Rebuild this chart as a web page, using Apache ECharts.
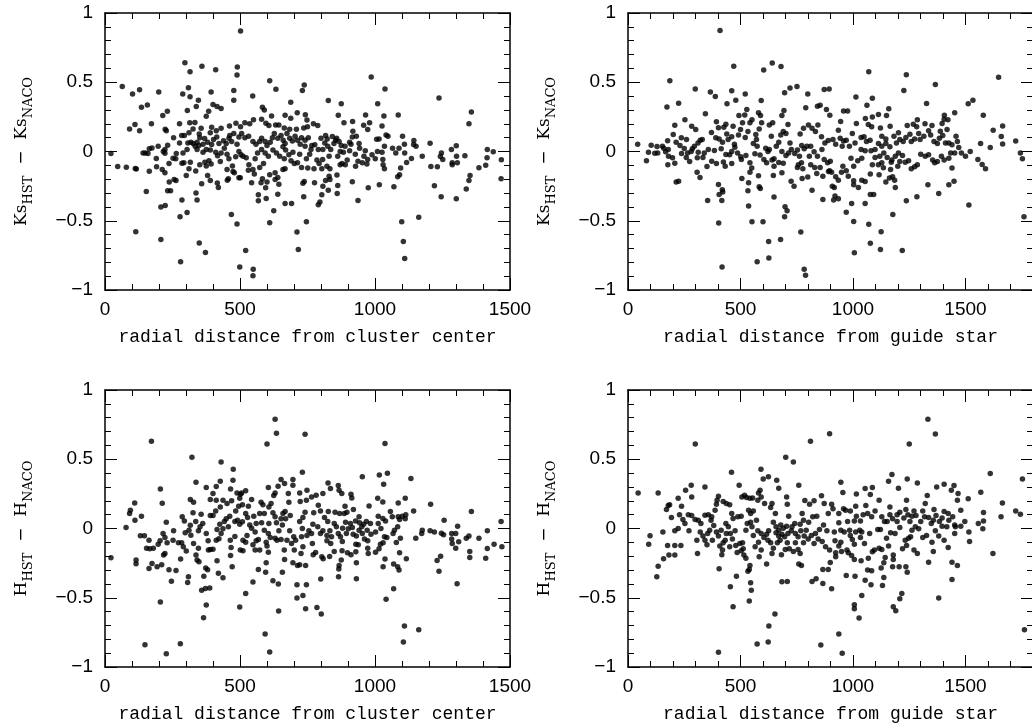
<!DOCTYPE html>
<html>
<head>
<meta charset="utf-8">
<title>Ks / H residuals vs radial distance</title>
<script src="https://cdn.jsdelivr.net/npm/echarts@6.0.0/dist/echarts.min.js"></script>
<style>
  html, body { margin: 0; padding: 0; background: #fff; }
  #chart { width: 1032px; height: 727px; }
</style>
</head>
<body>
<div id="chart"></div>
<script>
// [radial distance, magnitude difference]

// Ks(HST) - Ks(NACO) vs distance from cluster center
const ksCluster = [
[502,0.87],[296,0.64],[359,0.615],[410,0.59],[490,0.61],[489,0.553],[315,0.575],[610,0.51],[738,0.48],[64,0.47],
[102,0.415],[128,0.445],[199,0.43],[309,0.46],[288,0.415],[315,0.395],[393,0.43],[477,0.44],[477,0.37],[547,0.40],
[633,0.45],[731,0.44],[135,0.32],[157,0.335],[346,0.37],[305,0.296],[338,0.325],[400,0.34],[415,0.325],[430,0.31],
[214,0.26],[231,0.29],[384,0.29],[375,0.255],[688,0.355],[712,0.28],[742,0.265],[583,0.32],[590,0.30],[617,0.257],
[667,0.262],[688,0.24],[91,0.163],[111,0.195],[128,0.15],[172,0.2],[223,0.16],[227,0.15],[276,0.2],[314,0.207],
[333,0.21],[326,0.163],[356,0.168],[254,0.1],[284,0.115],[294,0.115],[311,0.135],[349,0.127],[369,0.094],[395,0.175],
[390,0.135],[412,0.15],[430,0.168],[461,0.185],[485,0.204],[502,0.178],[518,0.207],[536,0.2],[550,0.23],[580,0.233],
[596,0.204],[607,0.188],[632,0.192],[644,0.192],[664,0.17],[684,0.16],[709,0.16],[736,0.17],[748,0.228],[750,0.178],
[149,-0.01],[141,-0.01],[159,-0.015],[164,0.02],[174,0.026],[190,-0.05],[197,0.038],[216,0],[222,-0.012],[232,0.046],
[222,0.014],[191,-0.11],[212,-0.13],[222,-0.154],[237,-0.087],[238,-0.22],[243,-0.284],[232,-0.284],[256,-0.202],[263,-0.21],
[276,0.062],[285,-0.084],[292,-0.082],[304,0.014],[301,-0.173],[285,-0.35],[307,0.062],[318,0.067],[327,0.058],[334,0.038],
[341,0.067],[348,0.043],[363,0.053],[351,0.1],[375,0.014],[380,0.067],[395,0.05],[402,0.087],[414,0.105],[422,0.058],
[439,0.077],[449,0.058],[459,0.096],[469,0.072],[462,0.115],[477,0.13],[496,0.105],[506,0.13],[489,0.053],[518,0.1],
[532,0.11],[548,0.072],[559,0.053],[573,0.072],[580,0.096],[593,0.072],[600,0.043],[612,0.067],[620,0.1],[627,0.13],
[640,0.096],[652,0.115],[660,0.082],[667,0.058],[674,0.13],[684,0.096],[694,0.075],[704,0.11],[713,0.082],[723,0.053],
[728,0.1],[741,0.082],[741,0.038],[341,0.014],[363,-0.005],[390,0.01],[410,-0.005],[417,-0.03],[430,-0.01],[442,0.024],
[452,-0.02],[459,-0.053],[472,-0.105],[474,-0.144],[484,-0.038],[496,0],[504,-0.024],[511,-0.034],[523,-0.046],[501,-0.19],
[496,-0.19],[533,-0.096],[548,-0.13],[553,-0.163],[543,-0.226],[568,-0.313],[568,-0.356],[578,-0.226],[597,-0.34],[595,-0.262],
[610,-0.168],[610,-0.514],[625,-0.428],[630,-0.202],[640,-0.188],[644,-0.236],[640,-0.308],[667,-0.375],[691,-0.375],[711,-0.582],
[716,-0.707],[736,-0.327],[733,-0.23],[738,-0.216],[746,-0.507],[728,-0.115],[713,-0.082],[701,-0.087],[689,-0.067],[667,-0.125],
[664,-0.053],[647,-0.034],[635,-0.01],[622,0.01],[605,-0.034],[593,-0.01],[580,0.014],[565,-0.01],[556,-0.053],[681,-0.024],
[696,-0.005],[721,-0.02],[746,-0.053],[669,0.01],[659,0.034],[47,-0.108],[79,-0.113],[112,-0.123],[116,-0.127],[164,-0.142],
[22,-0.015],[153,-0.288],[207,-0.4],[223,-0.39],[278,-0.471],[304,-0.44],[114,-0.58],[207,-0.635],[280,-0.796],[349,-0.661],
[372,-0.73],[337,-0.3],[341,-0.35],[468,-0.454],[489,-0.524],[499,-0.834],[521,-0.714],[549,-0.851],[548,-0.897],[358,-0.233],
[390,-0.209],[416,-0.228],[420,-0.26],[453,-0.207],[457,-0.197],[452,-0.13],[479,-0.154],[380,-0.173],[336,-0.14],[351,-0.096],
[370,-0.077],[385,-0.067],[393,-0.09],[375,-0.105],[427,-0.072],[316,-0.077],[311,-0.125],[289,-0.01],[264,-0.015],[262,-0.053],
[252,-0.048],[531,-0.135],[573,-0.115],[587,-0.087],[583,-0.197],[600,-0.221],[630,-0.154],[659,-0.13],
[986,0.538],[1037,0.452],[827,0.368],[875,0.344],[1010,0.344],[1237,0.387],[1357,0.286],[1348,0.2],[864,0.262],[917,0.216],
[965,0.264],[980,0.207],[958,0.19],[1026,0.185],[1033,0.257],[1086,0.264],[788,0.188],[772,0.2],[885,0.207],[918,0.147],
[931,0.11],[973,0.159],[1006,0.089],[1015,0.091],[1041,0.12],[1048,0.11],[1102,0.11],[1144,0.08],[1152,0.038],[1204,0.06],
[1283,0.014],[1301,0.041],[1416,0.014],[1438,-0.002],[1468,-0.06],[1467,-0.197],[1415,-0.046],[1410,-0.1],[1385,-0.118],[1352,-0.173],
[1348,-0.21],[1338,-0.27],[1333,-0.03],[1305,-0.082],[1302,-0.034],[1286,-0.082],[1286,-0.096],[1301,-0.341],[1245,-0.327],[1220,-0.248],
[1246,-0.01],[1251,-0.058],[1231,-0.11],[1207,-0.108],[1242,-0.036],[1175,-0.034],[1162,-0.474],[1099,-0.507],[1105,-0.65],[1110,-0.772],
[1135,-0.05],[1143,0.05],[1109,0.053],[1110,-0.01],[1117,-0.08],[1095,-0.12],[1091,-0.168],[1084,-0.183],[1070,-0.255],[1089,0.024],
[1077,-0.01],[1065,0.024],[1035,0.038],[1026,-0.005],[1029,-0.058],[1030,-0.096],[1035,-0.125],[1016,-0.24],[975,-0.262],[937,-0.353],
[916,-0.219],[970,-0.091],[973,-0.058],[989,-0.024],[1001,-0.053],[1009,0],[964,0.005],[959,-0.034],[953,-0.082],[937,-0.07],
[928,-0.106],[927,-0.02],[943,0.024],[941,0.058],[911,0.053],[906,0.005],[897,-0.062],[890,-0.096],[871,-0.096],[862,-0.034],
[871,0],[875,0.043],[867,0.072],[858,0.096],[848,0.058],[836,0.014],[830,-0.034],[825,0.038],[823,0.091],[814,0.062],
[807,0.014],[800,0.096],[790,0.014],[777,0.048],[763,0.014],[758,-0.02],[766,0.043],[753,0.1],[817,0.115],[842,0.108],
[854,0.082],[906,0.067],[806,-0.058],[793,-0.087],[785,-0.062],[774,-0.125],[751,-0.12],[803,-0.125],[822,-0.106],[833,-0.125],
[830,-0.178],[833,-0.202],[859,-0.17],[817,-0.21],[807,-0.25],[803,-0.312],[827,-0.279],[862,-0.245],[860,-0.303],[776,-0.226],
[796,-0.365],[790,-0.385],[878,-0.087],[883,-0.005],[889,0.038],[916,0.105]
];

// Ks(HST) - Ks(NACO) vs distance from guide star
const ksGuide = [
[409,0.873],[470,0.615],[641,0.639],[680,0.613],[603,0.589],[186,0.51],[299,0.452],[366,0.43],[388,0.397],[461,0.438],
[479,0.37],[521,0.416],[592,0.368],[696,0.425],[720,0.459],[751,0.469],[799,0.416],[872,0.447],[894,0.452],[173,0.322],
[225,0.349],[344,0.272],[440,0.344],[493,0.26],[528,0.303],[519,0.264],[693,0.296],[684,0.26],[790,0.315],[842,0.327],
[854,0.334],[882,0.303],[897,0.262],[253,0.23],[208,0.19],[283,0.183],[301,0.159],[201,0.123],[237,0.099],[260,0.087],
[176,0.077],[103,0.046],[129,0.036],[153,0.038],[43,0.053],[91,-0.005],[119,-0.012],[132,-0.01],[159,0.024],[167,-0.002],
[180,-0.034],[177,-0.096],[208,-0.084],[198,-0.046],[82,-0.067],[214,-0.221],[225,-0.214],[231,0.043],[238,-0.015],[250,0.022],
[274,-0.072],[281,0],[286,0.02],[295,0.038],[311,0.062],[321,0.082],[330,0.087],[307,-0.149],[320,-0.188],[351,-0.108],
[354,-0.353],[371,0.137],[393,0.214],[402,0.171],[390,0.099],[405,0.091],[426,0.175],[435,0.197],[439,0.127],[420,0.067],
[414,0.019],[384,0.007],[372,-0.07],[393,-0.087],[424,-0.075],[435,-0.022],[452,-0.024],[461,0],[475,0.031],[491,0.12],
[500,0.159],[509,0.207],[467,0.183],[473,0.053],[487,-0.01],[501,-0.038],[524,-0.029],[506,-0.195],[533,-0.284],[536,-0.226],
[542,-0.149],[550,-0.12],[542,-0.082],[536,-0.394],[551,-0.507],[402,-0.238],[405,-0.31],[419,-0.276],[421,-0.293],[417,-0.353],
[403,-0.517],[418,-0.834],[574,-0.796],[600,-0.507],[625,-0.649],[626,-0.769],[583,-0.255],[588,-0.267],[580,-0.175],[649,-0.329],
[698,-0.399],[707,-0.428],[696,-0.471],[678,-0.635],[768,-0.582],[783,-0.851],[789,-0.894],[725,-0.214],[738,-0.25],[774,-0.195],
[799,-0.185],[818,-0.279],[866,-0.346],[866,-0.178],[839,-0.159],[891,-0.144],[646,-0.173],[649,-0.106],[684,-0.154],[670,-0.079],
[690,-0.084],[640,-0.062],[649,-0.053],[616,-0.082],[604,-0.058],[587,-0.026],[564,-0.017],[574,0.038],[557,0.058],[568,0.123],
[571,0.087],[583,0.163],[594,0.207],[589,0.26],[580,0.279],[612,0.024],[622,0],[628,0.014],[637,0.11],[628,0.192],
[643,0.207],[659,0.038],[670,0.067],[679,0.12],[690,0.144],[702,0.13],[711,0.195],[720,0.062],[726,0.014],[714,-0.01],
[702,-0.029],[684,0],[741,-0.014],[753,0.01],[762,-0.034],[772,0.043],[765,0.127],[780,0.168],[802,0.192],[818,0.168],
[833,0.144],[844,0.192],[860,0.106],[875,0.062],[890,0.079],[862,0.014],[842,-0.034],[827,-0.002],[806,-0.034],[795,0.038],
[783,0.019],[812,0.038],[771,-0.082],[757,-0.096],[753,-0.115],[777,-0.125],[812,-0.096],[830,-0.115],[854,-0.115],[872,-0.058],
[887,-0.082],[896,-0.139],[333,-0.043],[339,-0.01],[357,0.014],[312,-0.005],[308,-0.046],[265,-0.01],[259,-0.043],[214,0.067],
[179,0.014],[432,-0.106],[461,-0.087],[504,-0.058],[445,0.087],[461,0.106],[521,0.101],[533,0.144],[542,0.207],[551,0.23],
[1070,0.575],[1237,0.555],[1647,0.536],[1366,0.483],[1226,0.44],[1013,0.394],[1086,0.385],[1327,0.346],[1062,0.334],[1159,0.308],
[958,0.293],[976,0.293],[1512,0.344],[1533,0.37],[1579,0.262],[1149,0.26],[1113,0.267],[1086,0.25],[1055,0.238],[945,0.216],
[1015,0.202],[1068,0.195],[1083,0.178],[1122,0.17],[1165,0.183],[1202,0.135],[1241,0.188],[1268,0.197],[1286,0.23],[1283,0.178],
[1320,0.2],[1351,0.188],[1396,0.202],[1405,0.233],[1422,0.23],[1452,0.279],[1406,0.262],[1418,0.159],[1388,0.147],[935,0.154],
[911,0.087],[923,0.053],[943,0.096],[958,0.075],[952,0.038],[970,0.082],[984,0.038],[997,0.13],[1009,0.062],[1036,0.101],
[1049,0.106],[1060,0.072],[1076,0.082],[1036,0.014],[1054,0.005],[1080,0.005],[1098,0.014],[1113,0.058],[1128,0.038],[1146,0.058],
[1164,0.034],[1128,0.11],[1146,0.091],[1182,0.11],[1193,0.062],[1208,0.087],[1223,0.072],[1235,0.101],[1253,0.125],[1259,0.072],
[1274,0.091],[1292,0.13],[1298,0.087],[1315,0.11],[1336,0.149],[1345,0.12],[1360,0.072],[1375,0.058],[1384,0.096],[1399,0.115],
[1411,0.062],[1426,0.062],[1440,0.048],[1458,0.11],[1464,0.072],[1470,0.029],[1452,-0.01],[1482,-0.01],[1500,-0.034],[1521,0],
[1555,-0.058],[1567,0.058],[1574,-0.094],[1589,-0.125],[1610,0.029],[1623,0.154],[1659,0.108],[1665,0.055],[1665,0.185],[1723,0.075],
[1744,-0.01],[1753,-0.053],[1760,-0.471],[1434,-0.01],[1426,-0.048],[1405,-0.062],[1393,-0.034],[1375,-0.072],[1363,-0.082],[1354,-0.062],
[1336,-0.024],[1321,-0.034],[1301,-0.019],[1286,-0.096],[1274,-0.11],[1259,-0.125],[1247,-0.067],[1232,-0.077],[1220,-0.029],[1202,-0.01],
[1188,-0.034],[1173,-0.062],[1170,-0.077],[1152,-0.043],[1137,-0.01],[1119,-0.034],[1113,-0.096],[1098,-0.043],[1086,-0.096],[1077,-0.163],
[1116,-0.168],[1146,-0.221],[1162,-0.192],[1176,-0.183],[1185,-0.207],[1188,-0.26],[1167,-0.13],[1135,-0.118],[1054,-0.216],[1039,-0.207],
[1024,-0.26],[1003,-0.24],[1003,-0.212],[979,-0.178],[970,-0.139],[955,-0.106],[949,-0.149],[935,-0.207],[923,-0.183],[917,-0.26],
[908,-0.25],[920,-0.322],[935,-0.341],[914,-0.351],[994,-0.375],[970,-0.438],[1003,-0.505],[1054,-0.375],[1077,-0.31],[1092,-0.31],
[1070,-0.526],[1125,-0.579],[1077,-0.663],[1122,-0.707],[1006,-0.731],[1219,-0.714],[1177,-0.454],[1237,-0.356],[1284,-0.327],[1333,-0.24],
[1381,-0.303],[1426,-0.24],[1449,-0.214],[1440,-0.12],[1515,-0.387],[1199,-0.106],[1208,-0.072],[1128,-0.082],[1039,-0.048],[1021,-0.067],
[1003,-0.106],[991,-0.048],[905,-0.149],[899,-0.07]
];

// H(HST) - H(NACO) vs distance from cluster center
const hCluster = [
[630,0.788],[635,0.688],[172,0.63],[600,0.61],[741,0.68],[322,0.514],[430,0.481],[475,0.428],[731,0.406],[205,0.286],
[212,0.183],[337,0.334],[375,0.296],[412,0.303],[427,0.341],[465,0.286],[474,0.349],[489,0.257],[502,0.248],[521,0.272],
[605,0.296],[630,0.257],[641,0.305],[652,0.353],[665,0.325],[696,0.353],[696,0.313],[721,0.257],[748,0.276],[110,0.185],
[94,0.132],[111,0.06],[135,0.089],[91,0.108],[78,0.007],[131,-0.053],[146,-0.053],[163,-0.084],[154,-0.142],[166,-0.147],
[179,-0.142],[197,-0.113],[204,-0.089],[215,-0.036],[227,0.046],[222,-0.065],[230,-0.103],[222,-0.18],[217,-0.192],[115,-0.228],
[115,-0.255],[22,-0.212],[163,-0.288],[174,-0.252],[193,-0.276],[210,-0.262],[237,-0.298],[246,-0.38],[263,-0.303],[254,-0.017],
[252,-0.084],[280,-0.221],[284,-0.103],[286,0.084],[294,0.055],[290,-0.132],[297,-0.031],[301,-0.163],[309,-0.349],[306,-0.389],
[316,0.024],[311,-0.012],[316,0.209],[328,0.19],[326,0.113],[318,-0.048],[328,-0.108],[336,0.05],[337,-0.192],[341,-0.228],
[348,-0.24],[346,-0.142],[346,-0.017],[352,0.012],[356,0.103],[362,0.036],[373,-0.286],[380,-0.298],[366,-0.344],[372,-0.433],
[358,-0.445],[375,-0.553],[365,-0.644],[388,-0.43],[382,-0.089],[375,-0.036],[383,-0.156],[390,-0.151],[400,-0.149],[415,-0.233],
[420,-0.324],[437,-0.356],[412,-0.084],[422,-0.074],[430,-0.036],[415,-0.007],[390,0.094],[400,0.094],[410,0.127],[390,0.209],
[400,0.252],[412,0.204],[427,0.156],[437,0.204],[452,0.18],[449,0.07],[462,0.089],[457,0.012],[464,-0.084],[467,-0.137],
[465,-0.195],[471,-0.276],[481,-0.058],[481,0.05],[491,0.06],[495,0.161],[499,0.219],[506,0.257],[509,0.171],[499,0.031],
[509,0.048],[511,-0.084],[501,-0.156],[511,-0.161],[521,-0.099],[526,-0.05],[521,0.108],[528,0.079],[531,0.161],[543,0.209],
[551,0.089],[548,-0.118],[556,-0.156],[560,-0.089],[568,-0.079],[573,-0.156],[568,-0.296],[578,0.19],[585,0.171],[573,0.108],
[590,0.108],[590,-0.012],[597,-0.099],[600,-0.127],[605,-0.171],[597,-0.248],[595,-0.315],[593,-0.762],[610,-0.892],[622,-0.377],
[642,-0.401],[657,-0.315],[643,-0.596],[499,-0.567],[521,-0.469],[548,-0.387],[605,-0.036],[612,-0.065],[607,0.036],[607,0.156],
[615,0.18],[622,0.113],[625,0.238],[630,0.084],[635,0.041],[630,-0.07],[637,-0.084],[644,-0.017],[652,-0.079],[652,0.07],
[659,0.108],[657,0.026],[667,0.123],[669,0.07],[674,-0.084],[664,-0.156],[665,-0.224],[679,0.252],[681,0.19],[686,0.094],
[684,-0.017],[691,-0.108],[699,-0.06],[701,-0.156],[696,-0.248],[706,-0.084],[713,-0.267],[711,-0.406],[711,-0.502],[733,-0.483],
[743,-0.579],[746,-0.406],[721,-0.262],[726,-0.18],[733,-0.132],[728,-0.06],[731,0],[721,0.05],[723,0.195],[733,0.079],
[741,0.118],[746,0.204],[748,-0.05],[743,-0.267],[205,-0.531],[148,-0.839],[227,-0.904],[279,-0.832],[272,-0.103],[425,0.031],
[437,-0.002],[442,0.05],[543,0.002],[556,-0.026],[580,0.041],[469,0.2],[484,0.127],[560,0.036],[536,0.026],
[1037,0.613],[1016,0.387],[1046,0.399],[953,0.373],[1032,0.32],[1133,0.361],[826,0.329],[835,0.288],[864,0.31],[867,0.276],
[877,0.252],[807,0.252],[782,0.24],[765,0.228],[911,0.248],[914,0.221],[1010,0.219],[1029,0.192],[1112,0.219],[1086,0.185],
[1206,0.175],[1357,0.123],[1143,0.127],[920,0.137],[978,0.163],[889,0.161],[790,0.168],[798,0.127],[773,0.113],[827,0.123],
[852,0.118],[869,0.108],[886,0.108],[896,0.118],[1012,0.089],[1029,0.072],[1039,0.055],[1086,0.084],[1101,0.089],[1114,0.099],
[1091,0.065],[1112,0.07],[941,0.084],[928,0.055],[943,0.041],[958,0.031],[968,0.05],[983,0.036],[909,0.036],[916,0.007],
[901,-0.002],[894,-0.036],[919,-0.041],[931,-0.055],[941,-0.012],[953,-0.036],[961,-0.075],[973,-0.089],[985,-0.041],[975,-0.18],
[938,-0.118],[929,-0.113],[929,-0.168],[931,-0.248],[931,-0.363],[911,-0.19],[898,-0.175],[880,0.002],[864,-0.036],[872,-0.06],
[857,0.012],[849,0.036],[833,-0.017],[822,-0.05],[839,-0.06],[836,-0.108],[822,-0.089],[807,-0.017],[798,-0.036],[788,0.012],
[770,0.031],[765,-0.036],[755,-0.017],[768,-0.108],[780,-0.173],[771,-0.19],[808,-0.219],[803,-0.204],[832,-0.202],[849,-0.166],
[878,-0.161],[875,-0.228],[867,-0.267],[866,-0.293],[865,-0.349],[799,-0.365],[785,-0.57],[801,-0.618],[973,-0.142],[1002,-0.171],
[1015,-0.147],[1020,-0.113],[1035,-0.06],[1030,-0.103],[1044,-0.065],[1037,-0.221],[1030,-0.276],[1041,-0.51],[1069,-0.435],[1067,-0.036],
[1072,-0.012],[1084,0.012],[1079,-0.101],[1094,-0.07],[1091,-0.175],[1116,-0.219],[1084,-0.276],[1089,-0.3],[1069,-0.257],[1109,-0.704],
[1105,-0.82],[1162,-0.731],[1151,-0.07],[1175,-0.012],[1173,-0.036],[1204,-0.017],[1220,-0.026],[1246,-0.034],[1254,-0.046],[1256,0.06],
[1230,-0.231],[1243,-0.2],[1237,-0.308],[1284,-0.036],[1284,-0.075],[1286,-0.108],[1299,-0.142],[1299,-0.036],[1306,0.017],[1310,-0.096],
[1304,-0.399],[1338,-0.07],[1348,-0.055],[1351,-0.166],[1351,-0.209],[1385,-0.07],[1410,-0.214],[1416,-0.144],[1416,-0.017],[1441,-0.113],
[1467,0.05],[1470,-0.132],[1057,0.123],[1064,0.084],[1002,-0.026],[1012,0.036],[1022,0],[825,0.05],[813,0.079],[879,-0.094],
[951,0.012],[971,-0.012],[891,0.046]
];

// H(HST) - H(NACO) vs distance from guide star
const hGuide = [
[299,0.611],[701,0.514],[735,0.481],[811,0.63],[896,0.685],[460,0.406],[591,0.428],[624,0.373],[601,0.358],[45,0.257],
[134,0.257],[342,0.3],[281,0.313],[256,0.276],[283,0.228],[223,0.219],[185,0.171],[238,0.161],[171,0.137],[179,0.166],
[193,0.079],[229,0.099],[244,0.065],[253,0.036],[268,0.099],[283,0.094],[298,0.065],[312,0.06],[324,0.036],[271,-0.017],
[223,0],[208,-0.017],[155,-0.026],[98,-0.053],[92,-0.113],[176,-0.123],[208,-0.123],[235,-0.123],[182,-0.192],[208,-0.192],
[158,-0.219],[134,-0.272],[128,-0.349],[306,-0.084],[309,-0.18],[321,-0.026],[333,-0.055],[351,-0.118],[342,0.096],[357,0.099],
[372,0.084],[369,0.06],[387,0.132],[393,0.175],[402,0.233],[396,0.204],[423,0.195],[437,0.18],[452,0.171],[461,0.108],
[467,0.072],[488,0.084],[503,0.089],[494,0.313],[506,0.228],[518,0.24],[527,0.224],[542,0.219],[554,0.221],[577,0.204],
[580,0.257],[587,0.276],[592,0.228],[607,0.18],[640,0.18],[634,0.151],[655,0.108],[670,0.291],[661,0.349],[705,0.228],
[708,0.175],[714,0.089],[759,0.313],[786,0.202],[807,0.175],[827,0.2],[860,0.236],[872,0.18],[890,0.108],[839,0.089],
[821,0.084],[774,0.108],[780,0.06],[803,0.046],[792,-0.012],[765,0.031],[741,0.036],[729,0.012],[705,0.017],[690,0.002],
[679,0.026],[670,-0.012],[684,-0.041],[696,-0.06],[711,-0.036],[726,-0.017],[744,-0.036],[756,-0.06],[768,-0.017],[783,-0.055],
[801,-0.075],[815,-0.05],[833,-0.036],[845,-0.075],[863,-0.094],[878,-0.132],[896,-0.156],[899,-0.245],[890,-0.296],[866,-0.296],
[866,-0.397],[836,-0.363],[818,-0.382],[765,-0.18],[759,-0.257],[771,-0.267],[735,-0.166],[717,-0.147],[699,-0.151],[682,-0.19],
[676,-0.084],[664,-0.103],[646,-0.142],[640,-0.18],[634,-0.103],[622,-0.084],[616,-0.041],[625,-0.017],[604,-0.065],[592,-0.036],
[577,-0.017],[580,-0.099],[592,-0.156],[583,-0.204],[616,-0.257],[708,-0.382],[684,-0.385],[653,-0.618],[626,-0.704],[623,-0.82],
[574,-0.834],[402,-0.894],[857,-0.841],[539,-0.524],[545,-0.392],[548,-0.445],[539,-0.296],[533,-0.308],[542,-0.267],[524,-0.214],
[515,-0.192],[503,-0.161],[485,-0.173],[482,-0.344],[467,-0.565],[455,-0.421],[405,-0.291],[417,-0.19],[420,-0.156],[408,-0.127],
[423,-0.103],[432,-0.084],[437,-0.036],[455,-0.036],[452,-0.132],[464,-0.075],[476,-0.017],[479,-0.123],[497,-0.108],[509,-0.103],
[512,-0.147],[524,-0.012],[530,0.036],[545,0.046],[551,0.012],[557,-0.05],[565,-0.132],[571,0.06],[557,0.127],[545,0.108],
[536,0.132],[381,0.022],[393,-0.026],[402,-0.055],[414,-0.012],[435,0.036],[446,0.012],[354,-0.036],[363,-0.012],[375,-0.084],
[342,-0.084],[646,0.046],[658,0.012],[658,-0.031],[670,-0.055],[708,-0.103],[744,-0.103],[756,-0.151],[780,-0.103],[827,-0.108],
[851,-0.007],[869,0.026],[884,-0.017],
[1333,0.788],[1366,0.683],[1250,0.611],[1610,0.397],[1753,0.358],[1173,0.389],[1158,0.341],[1241,0.358],[1286,0.329],[946,0.334],
[955,0.26],[1015,0.25],[1077,0.245],[1054,0.288],[1086,0.296],[1202,0.291],[1372,0.3],[1405,0.32],[1437,0.276],[1449,0.31],
[1467,0.252],[1568,0.262],[1512,0.214],[1664,0.185],[1723,0.127],[1744,0.103],[1658,0.084],[1580,0.115],[1557,0.036],[1580,0.055],
[1577,-0.002],[1622,-0.18],[1515,-0.026],[1518,-0.094],[1497,0.05],[1479,0.132],[1464,0.204],[1443,0.084],[1452,0.026],[1426,0.06],
[1423,0.108],[1405,0.123],[1396,0.075],[1384,0.05],[1369,0.094],[1360,0.137],[1357,0.06],[1348,0.036],[1336,0.079],[1330,0.238],
[1321,0.18],[1310,0.127],[1318,0.084],[1301,0.05],[1280,0.094],[1271,0.127],[1262,0.089],[1253,0.05],[1244,0.099],[1235,0.137],
[1226,0.075],[1238,0.204],[1208,0.118],[1196,0.099],[1196,0.05],[1176,0.07],[1164,0.099],[1164,0.156],[1152,0.05],[1140,0.05],
[1128,0.084],[1116,0.204],[1110,-0.007],[1122,-0.007],[1098,0.127],[1083,0.084],[1065,0.108],[1057,0.166],[1045,0.099],[1033,0.055],
[1012,0.161],[1015,0.089],[1006,0.055],[988,0.127],[976,0.05],[967,0.132],[958,0.142],[937,0.108],[937,0.041],[911,0.142],
[905,0.175],[917,-0.026],[920,-0.089],[946,-0.099],[937,-0.127],[923,-0.175],[923,-0.204],[949,-0.166],[946,-0.012],[961,-0.026],
[985,-0.012],[988,-0.05],[997,-0.079],[1006,-0.113],[1012,-0.026],[1030,-0.012],[1039,-0.026],[1033,-0.065],[979,-0.175],[973,-0.156],
[1006,-0.224],[994,-0.195],[1036,-0.233],[1068,-0.214],[1086,-0.168],[1095,-0.156],[1116,-0.142],[1128,-0.151],[1158,-0.127],[1179,-0.192],
[1179,-0.224],[1137,-0.248],[1125,-0.286],[1083,-0.305],[1054,-0.373],[1176,-0.276],[1205,-0.276],[1235,-0.276],[1241,-0.315],[1220,-0.147],
[1238,-0.123],[1232,-0.084],[1247,-0.07],[1256,-0.06],[1271,-0.156],[1286,-0.18],[1262,-0.012],[1277,0.012],[1292,-0.002],[1310,-0.065],
[1327,-0.05],[1336,-0.243],[1351,-0.099],[1357,-0.166],[1381,-0.055],[1405,-0.084],[1423,-0.137],[1440,-0.243],[1464,-0.267],[1440,-0.368],
[1381,-0.502],[1366,-0.017],[1396,0.017],[1417,0.012],[1455,0.012],[1479,0.017],[1452,-0.036],[1065,-0.3],[1009,-0.344],[970,-0.339],
[1080,-0.406],[1137,-0.353],[1131,-0.411],[1039,-0.483],[1006,-0.55],[1006,-0.579],[1027,-0.647],[1179,-0.565],[1190,-0.594],[1208,-0.507],
[1217,-0.469],[937,-0.762],[952,-0.901],[905,-0.435],[1762,-0.731],[1143,-0.209],[1187,-0.036],[1208,0.007],[1074,-0.036],[1051,-0.108],
[1149,-0.07],[1167,-0.031]
];

const xTitles = ['radial distance from cluster center', 'radial distance from guide star'];
const xMax = [1500, 1800];
const bands = ['Ks', 'Ks', 'H', 'H'];

(function () {
    const chart = echarts.init(document.getElementById('chart'), null, { renderer: 'canvas' });

    const panels = [
        { data: ksCluster, band: bands[0], xTitle: xTitles[0], xMax: xMax[0], left: 105, top: 13 },
        { data: ksGuide,   band: bands[1], xTitle: xTitles[1], xMax: xMax[1], left: 628, top: 13 },
        { data: hCluster,  band: bands[2], xTitle: xTitles[0], xMax: xMax[0], left: 105, top: 390 },
        { data: hGuide,    band: bands[3], xTitle: xTitles[1], xMax: xMax[1], left: 628, top: 390 }
    ];

    const black = '#000';
    const tickFont = { color: black, fontSize: 19, fontFamily: 'Liberation Sans, Arial, sans-serif' };
    const minus = v => (v < 0 ? '\u2212' : '') + Math.abs(v);

    function frameAxis(extra) {
        return Object.assign({
            type: 'value',
            axisLine: { show: true, onZero: false, lineStyle: { color: black, width: 1.5 } },
            axisTick: { show: true, inside: true, length: 12, lineStyle: { color: black, width: 1 } },
            minorTick: { show: true, splitNumber: 5, length: 6, lineStyle: { color: black, width: 1 } },
            splitLine: { show: false },
            minorSplitLine: { show: false }
        }, extra);
    }

    const grid = [], xAxis = [], yAxis = [], series = [];
    panels.forEach((p, i) => {
        grid.push({ left: p.left, top: p.top, width: 405, height: 277, outerBoundsMode: 'none', containLabel: false });
        // bottom + top x axes
        xAxis.push(frameAxis({
            gridIndex: i, position: 'bottom', min: 0, max: p.xMax, interval: 500,
            axisLabel: Object.assign({
                margin: 10,
                showMaxLabel: p.xMax % 500 === 0,
                formatter: v => (v % 500 === 0 ? minus(v) : '')
            }, tickFont),
            name: p.xTitle, nameLocation: 'middle', nameGap: 38, nameMoveOverlap: false,
            nameTextStyle: { color: black, fontSize: 18, fontFamily: 'Liberation Mono, Courier New, monospace' }
        }));
        xAxis.push(frameAxis({
            gridIndex: i, position: 'top', min: 0, max: p.xMax, interval: 500,
            axisLabel: { show: false }
        }));
        // left + right y axes
        yAxis.push(frameAxis({
            gridIndex: i, position: 'left', min: -1, max: 1, interval: 0.5,
            axisLabel: Object.assign({ margin: 12, formatter: minus }, tickFont),
            name: '{m|' + p.band + '}{s|HST}{m|  \u2212  ' + p.band + '}{s|NACO}',
            nameLocation: 'middle', nameRotate: 90, nameGap: 70, nameMoveOverlap: false,
            nameTextStyle: {
                color: black,
                rich: {
                    m: { fontSize: 17, fontFamily: 'DejaVu Serif, serif', color: black },
                    s: { fontSize: 13, fontFamily: 'DejaVu Serif, serif', color: black, padding: [14, 0, 0, 0] }
                }
            }
        }));
        yAxis.push(frameAxis({
            gridIndex: i, position: 'right', min: -1, max: 1, interval: 0.5,
            axisLabel: { show: false }
        }));
        series.push({
            type: 'scatter',
            xAxisIndex: i * 2,
            yAxisIndex: i * 2,
            data: p.data,
            symbol: 'circle',
            symbolSize: 5.5,
            itemStyle: { color: black },
            silent: true
        });
    });

    chart.setOption({
        backgroundColor: '#fff',
        animation: false,
        grid: grid,
        xAxis: xAxis,
        yAxis: yAxis,
        series: series
    });
})();
</script>
</body>
</html>
